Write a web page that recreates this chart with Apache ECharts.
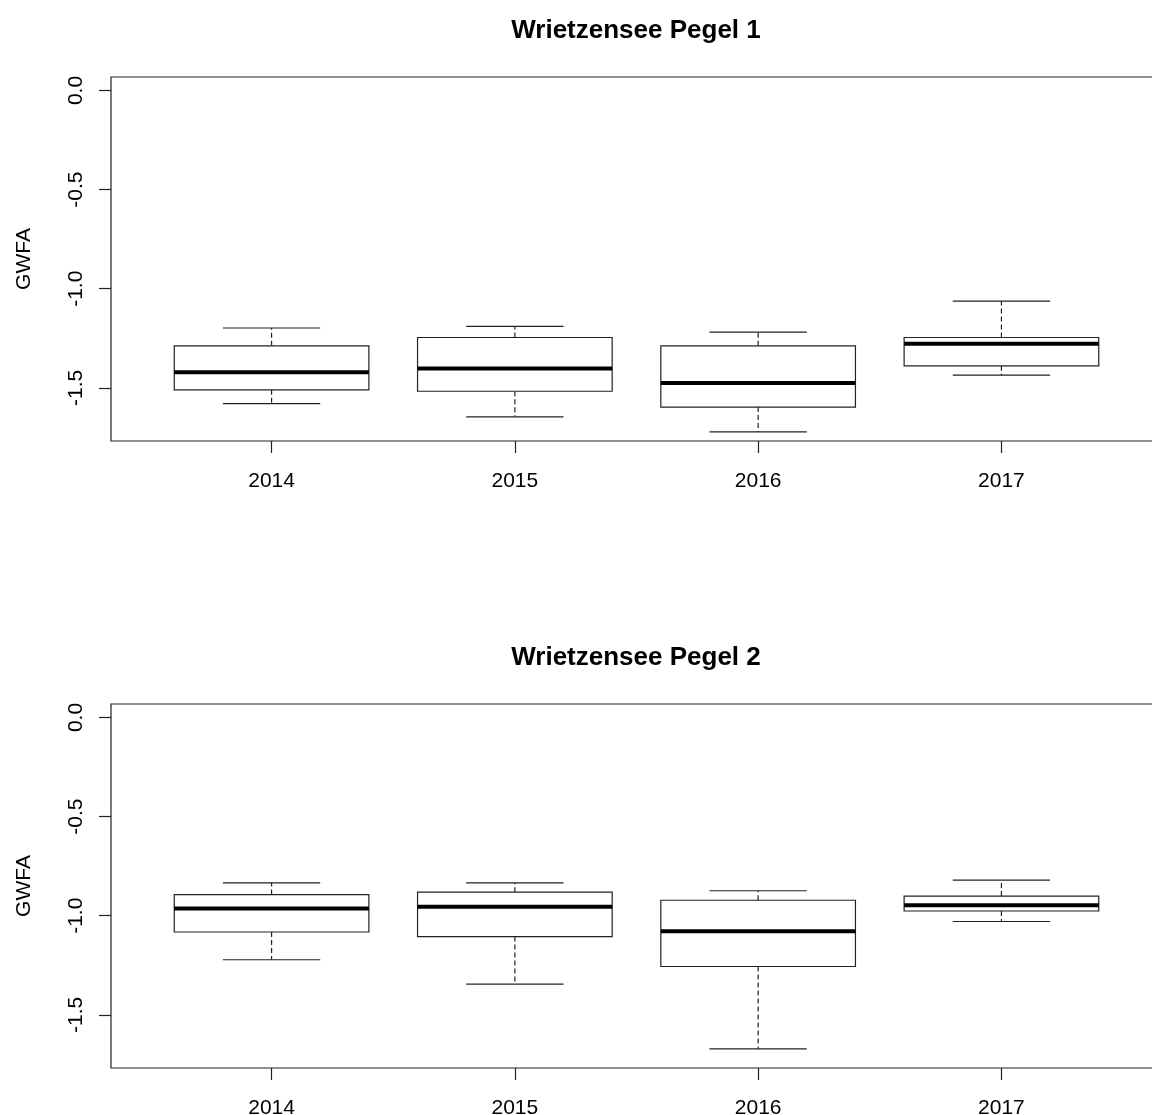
<!DOCTYPE html>
<html>
<head>
<meta charset="utf-8">
<script src="https://cdn.jsdelivr.net/npm/echarts@6/dist/echarts.min.js"></script>
<style>
html,body{margin:0;padding:0;background:#fff;}
#chart{width:1152px;height:1115px;}
</style>
</head>
<body>
<div id="chart"></div>
<script>
// ---- data ----
var titles = ['Wrietzensee Pegel 1', 'Wrietzensee Pegel 2'];
var years = ['2014', '2015', '2016', '2017'];
var yTickValues = [0, -0.5, -1.0, -1.5];
var yTickLabels = ['0.0', '-0.5', '-1.0', '-1.5'];
var yName = 'GWFA';
// [lower whisker, Q1, median, Q3, upper whisker]
var pegel1 = [
  [-1.579, -1.510, -1.421, -1.288, -1.198],
  [-1.646, -1.517, -1.402, -1.246, -1.190],
  [-1.722, -1.597, -1.476, -1.288, -1.219],
  [-1.436, -1.389, -1.278, -1.246, -1.062]
];
var pegel2 = [
  [-1.222, -1.082, -0.964, -0.893, -0.834],
  [-1.345, -1.105, -0.955, -0.881, -0.834],
  [-1.672, -1.256, -1.078, -0.922, -0.874],
  [-1.029, -0.976, -0.947, -0.901, -0.820]
];

var FONT = 'Liberation Sans, Arial, sans-serif';
var LINE = '#222';

function toData(arr) {
  return arr.map(function (v, i) { return [i + 1].concat(v); });
}

function renderBox(params, api) {
  var x = api.value(0);
  var lo = api.coord([x, api.value(1)]);
  var q1 = api.coord([x, api.value(2)]);
  var md = api.coord([x, api.value(3)]);
  var q3 = api.coord([x, api.value(4)]);
  var hi = api.coord([x, api.value(5)]);
  var bw = api.size([0.8, 0])[0];
  var sw = api.size([0.4, 0])[0];
  var cx = md[0];
  var thin = { stroke: LINE, lineWidth: 1.2, fill: null };
  var dash = { stroke: LINE, lineWidth: 1.2, lineDash: [5, 3], fill: null };
  return {
    type: 'group',
    children: [
      { type: 'line', shape: { x1: cx, y1: q3[1], x2: cx, y2: hi[1] }, style: dash },
      { type: 'line', shape: { x1: cx, y1: q1[1], x2: cx, y2: lo[1] }, style: dash },
      { type: 'line', shape: { x1: cx - sw / 2, y1: hi[1], x2: cx + sw / 2, y2: hi[1] }, style: thin },
      { type: 'line', shape: { x1: cx - sw / 2, y1: lo[1], x2: cx + sw / 2, y2: lo[1] }, style: thin },
      { type: 'rect', shape: { x: cx - bw / 2, y: q3[1], width: bw, height: q1[1] - q3[1] },
        style: { stroke: LINE, lineWidth: 1.2, fill: '#fff' } },
      { type: 'line', shape: { x1: cx - bw / 2, y1: md[1], x2: cx + bw / 2, y2: md[1] },
        style: { stroke: '#000', lineWidth: 4 } }
    ]
  };
}

var tops = [77, 704];
var grids = [], xAxes = [], yAxes = [], series = [], titleOpts = [];
[pegel1, pegel2].forEach(function (set, k) {
  grids.push({ left: 111, top: tops[k], width: 1051, height: 364, show: true,
    outerBoundsMode: 'none', containLabel: false,
    borderColor: LINE, borderWidth: 1.2, backgroundColor: 'transparent' });
  titleOpts.push({ text: titles[k], left: 631, top: tops[k] - 64, textAlign: 'center',
    textStyle: { fontFamily: FONT, fontWeight: 'bold', fontSize: 26, color: '#000' } });
  xAxes.push({ type: 'value', gridIndex: k, min: 0.34, max: 4.66, position: 'bottom',
    axisLine: { show: false, onZero: false },
    splitLine: { show: false },
    axisTick: { show: true, inside: false, length: 12, customValues: [1, 2, 3, 4],
      lineStyle: { color: LINE, width: 1.2 } },
    axisLabel: { show: true, customValues: [1, 2, 3, 4], margin: 30,
      fontFamily: FONT, fontSize: 21, color: '#000',
      formatter: function (v) { return years[Math.round(v) - 1]; } } });
  yAxes.push({ type: 'value', gridIndex: k, min: -1.768, max: 0.068, position: 'left',
    name: yName, nameLocation: 'middle', nameRotate: 90, nameGap: 76,
    nameTextStyle: { fontFamily: FONT, fontSize: 21, color: '#000' },
    axisLine: { show: false, onZero: false },
    splitLine: { show: false },
    axisTick: { show: true, length: 12, customValues: yTickValues,
      lineStyle: { color: LINE, width: 1.2 } },
    axisLabel: { show: true, customValues: yTickValues, rotate: 90, margin: 24,
      fontFamily: FONT, fontSize: 21, color: '#000',
      formatter: function (v) {
        var i = yTickValues.findIndex(function (t) { return Math.abs(t - v) < 1e-6; });
        return i >= 0 ? yTickLabels[i] : '';
      } } });
  series.push({ type: 'custom', xAxisIndex: k, yAxisIndex: k, renderItem: renderBox,
    encode: { x: 0, y: [1, 2, 3, 4, 5] }, data: toData(set), silent: true, clip: false });
});

var chart = echarts.init(document.getElementById('chart'), null, { renderer: 'canvas' });
chart.setOption({
  animation: false,
  backgroundColor: '#fff',
  title: titleOpts,
  grid: grids,
  xAxis: xAxes,
  yAxis: yAxes,
  series: series
});
</script>
</body>
</html>
